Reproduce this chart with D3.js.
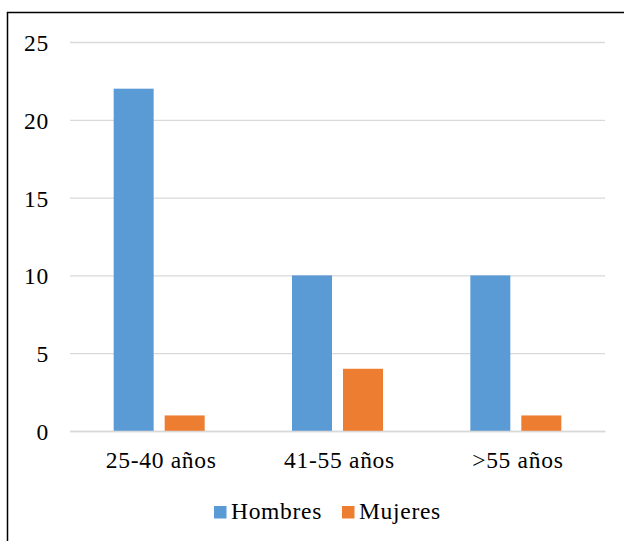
<!DOCTYPE html>
<html>
<head>
<meta charset="utf-8">
<script src="https://cdn.jsdelivr.net/npm/d3@7"></script>
<style>
  html, body { margin: 0; padding: 0; background: #fff; }
  svg { display: block; }
</style>
</head>
<body>
<svg id="chart" width="624" height="541"></svg>
<script>
// Age groups and counts per gender
const categories = ["25-40 años", "41-55 años", ">55 años"];
const seriesNames = ["Hombres", "Mujeres"];
const hombres = [22, 10, 10];
const mujeres = [1, 4, 1];
const yTicks = [0, 5, 10, 15, 20, 25];
const colors = ["#5b9bd5", "#ed7d31"];

const svg = d3.select("#chart");
const W = 624, H = 541;
const plot = { left: 70, right: 605, top: 42, bottom: 431 };
const FS = 23.5;
const LS = 0.7;

// Shared text styling applied directly to every label
function serifText(sel) {
  sel.attr("font-family", "'Liberation Serif'")
    .attr("font-size", FS)
    .attr("fill", "#000")
    .style("letter-spacing", LS + "px");
}

// Outer frame (extends past the right and bottom edges)
svg.append("rect")
  .attr("x", 7.5).attr("y", 12.5)
  .attr("width", W + 20).attr("height", H + 20)
  .attr("fill", "none").attr("stroke", "#000").attr("stroke-width", 1.5);

const x0 = d3.scaleBand().domain(categories).range([plot.left, plot.right]);
const groupW = 91;
const x1 = d3.scaleBand().domain(seriesNames)
  .range([x0.bandwidth() / 2 - groupW / 2, x0.bandwidth() / 2 + groupW / 2])
  .paddingInner(11 / 51);
const y = d3.scaleLinear().domain([0, 25]).range([plot.bottom, plot.top]);

// Gridlines and y labels
const yAxis = d3.axisLeft(y).tickValues(yTicks).tickSize(-(plot.right - plot.left)).tickPadding(21).tickFormat(d3.format("d"));
const gy = svg.append("g").attr("transform", `translate(${plot.left},0)`).call(yAxis);
gy.select(".domain").remove();
gy.selectAll(".tick line").attr("stroke", "#d9d9d9").attr("stroke-width", 1.3);
gy.selectAll(".tick text").call(serifText).attr("dy", "0.36em");

// Bars
const rows = categories.map((c, i) => ({ cat: c, values: [hombres[i], mujeres[i]] }));
const groups = svg.append("g").selectAll("g").data(rows).join("g")
  .attr("transform", d => `translate(${x0(d.cat)},0)`);
groups.selectAll("rect")
  .data(d => d.values.map((v, j) => ({ name: seriesNames[j], v, j })))
  .join("rect")
  .attr("x", d => x1(d.name))
  .attr("width", x1.bandwidth())
  .attr("y", d => y(d.v))
  .attr("height", d => y(0) - y(d.v))
  .attr("fill", d => colors[d.j]);

// Category axis
const xAxis = d3.axisBottom(x0).tickSize(0).tickPadding(20);
const gx = svg.append("g").attr("transform", `translate(0,${plot.bottom})`).call(xAxis);
gx.select(".domain").attr("stroke", "#d9d9d9").attr("stroke-width", 1.3);
gx.selectAll(".tick text").call(serifText).attr("dx", "2");

// Legend
const legend = svg.append("g");
const legendItems = [{ name: seriesNames[0], x: 214 }, { name: seriesNames[1], x: 342 }];
legendItems.forEach((it, i) => {
  legend.append("rect").attr("x", it.x).attr("y", 506).attr("width", 12.5).attr("height", 12.5).attr("fill", colors[i]);
  legend.append("text").attr("x", it.x + 17).attr("y", 519).call(serifText).text(it.name);
});
</script>
</body>
</html>
